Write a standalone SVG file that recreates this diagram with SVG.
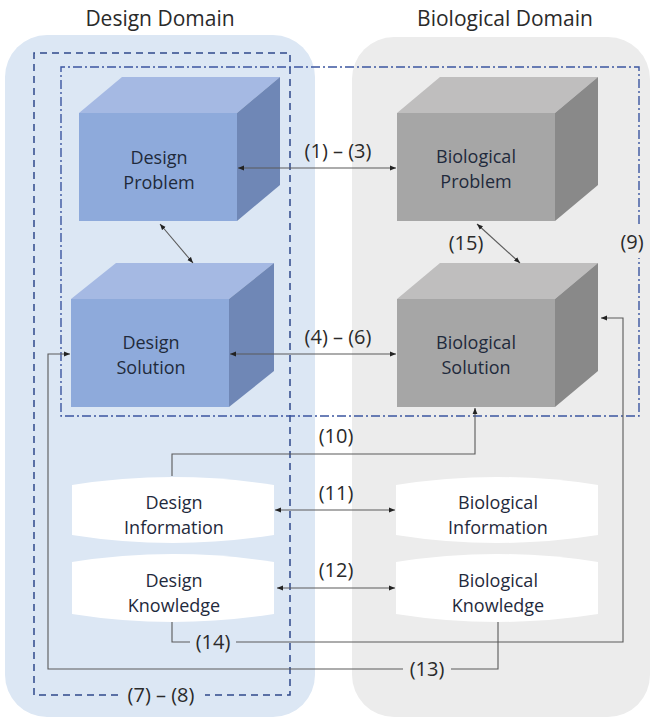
<svg xmlns="http://www.w3.org/2000/svg" width="653" height="717" viewBox="0 0 653 717">
<defs>
<marker id="ah" viewBox="0 0 10 10" refX="10" refY="5" markerWidth="6" markerHeight="6" orient="auto-start-reverse" markerUnits="userSpaceOnUse">
<path d="M0,1 L10,5 L0,9 Z" fill="#222"/>
</marker>
<style>
.t{font-family:"Open Sans","Liberation Sans",sans-serif;fill:#2a2a2a;text-anchor:middle}
.title{font-size:21px}
.node{font-size:18px;fill:#1f2a3c}
.lbl{font-size:20px}
.ln{fill:none;stroke:#5a5a5a;stroke-width:1.1}
.dash{fill:none;stroke:#2f4a8a;stroke-width:1.5;stroke-dasharray:7 5}
.dd{fill:none;stroke:#3b56a0;stroke-width:1.4;stroke-dasharray:9 3 2 3}
.bf{fill:#8eaadb}.bt{fill:#a5b9e3}.bs{fill:#6f87b6}
.gf{fill:#a6a6a6}.gt{fill:#bfbebe}.gs{fill:#898989}
.cyl{fill:#ffffff}
</style>
</defs>
<rect x="0" y="0" width="653" height="717" fill="#ffffff"/>
<rect id="design-domain" x="5" y="35" width="310" height="682" rx="42" fill="#dce7f4"/>
<rect id="bio-domain" x="352" y="37" width="298" height="680" rx="42" fill="#ececec"/>
<text class="t title" x="160" y="26">Design Domain</text>
<text class="t title" x="505" y="26">Biological Domain</text>

<g id="boundaries">
<path class="dash" d="M118,695 H34 V53 H290 V695 H205"/>
<text class="t lbl" x="161" y="702">(7) – (8)</text>
<path class="dd" d="M639,224 V67 H61 V416 H639 V258"/>
<text class="t lbl" x="632" y="249">(9)</text>
</g>

<g id="design-problem">
<polygon class="bt" points="79,113 122,77 280,77 237,113"/>
<polygon class="bs" points="237,113 280,77 280,185 237,221"/>
<rect class="bf" x="79" y="113" width="158" height="108"/>
<text class="t node" x="159" y="164">Design</text>
<text class="t node" x="159" y="189">Problem</text>
</g>
<g id="design-solution">
<polygon class="bt" points="71,299 116,263 274,263 229,299"/>
<polygon class="bs" points="229,299 274,263 274,371 229,407"/>
<rect class="bf" x="71" y="299" width="158" height="108"/>
<text class="t node" x="151" y="349">Design</text>
<text class="t node" x="151" y="374">Solution</text>
</g>
<g id="bio-problem">
<polygon class="gt" points="397,113 440,77 598,77 555,113"/>
<polygon class="gs" points="555,113 598,77 598,185 555,221"/>
<rect class="gf" x="397" y="113" width="158" height="108"/>
<text class="t node" x="476" y="163">Biological</text>
<text class="t node" x="476" y="188">Problem</text>
</g>
<g id="bio-solution">
<polygon class="gt" points="397,299 440,263 598,263 555,299"/>
<polygon class="gs" points="555,299 598,263 598,371 555,407"/>
<rect class="gf" x="397" y="299" width="158" height="108"/>
<text class="t node" x="476" y="349">Biological</text>
<text class="t node" x="476" y="374">Solution</text>
</g>

<g id="design-information">
<path class="cyl" d="M72,485 Q173,469 274,485 L274,535 Q173,551 72,535 Z"/>
<text class="t node" x="174" y="509">Design</text>
<text class="t node" x="174" y="534">Information</text>
</g>
<g id="design-knowledge">
<path class="cyl" d="M72,562 Q173,546 274,562 L274,614 Q173,630 72,614 Z"/>
<text class="t node" x="174" y="587">Design</text>
<text class="t node" x="174" y="612">Knowledge</text>
</g>
<g id="bio-information">
<path class="cyl" d="M396,485 Q497,469 598,485 L598,535 Q497,551 396,535 Z"/>
<text class="t node" x="498" y="509">Biological</text>
<text class="t node" x="498" y="534">Information</text>
</g>
<g id="bio-knowledge">
<path class="cyl" d="M396,562 Q497,546 598,562 L598,614 Q497,630 396,614 Z"/>
<text class="t node" x="498" y="587">Biological</text>
<text class="t node" x="498" y="612">Knowledge</text>
</g>

<g id="connectors">
<line class="ln" x1="238" y1="168" x2="396" y2="168" marker-start="url(#ah)" marker-end="url(#ah)"/>
<text class="t lbl" x="338" y="158">(1) – (3)</text>
<line class="ln" x1="160" y1="224" x2="193" y2="263" marker-start="url(#ah)" marker-end="url(#ah)"/>
<line class="ln" x1="230" y1="354" x2="396" y2="354" marker-start="url(#ah)" marker-end="url(#ah)"/>
<text class="t lbl" x="338" y="344">(4) – (6)</text>
<line class="ln" x1="477" y1="224" x2="520" y2="263" marker-start="url(#ah)" marker-end="url(#ah)"/>
<text class="t lbl" x="466" y="250">(15)</text>
<path class="ln" d="M172,476 V454 H475 V408" marker-end="url(#ah)"/>
<text class="t lbl" x="336" y="443">(10)</text>
<line class="ln" x1="275" y1="510" x2="395" y2="510" marker-start="url(#ah)" marker-end="url(#ah)"/>
<text class="t lbl" x="336" y="500">(11)</text>
<line class="ln" x1="277" y1="588" x2="395" y2="588" marker-start="url(#ah)" marker-end="url(#ah)"/>
<text class="t lbl" x="336" y="577">(12)</text>
<path class="ln" d="M172,622 V642 H190"/>
<path class="ln" d="M236,642 H623 V318 H601" marker-end="url(#ah)"/>
<text class="t lbl" x="213" y="649">(14)</text>
<path class="ln" d="M498,622 V669 H451"/>
<path class="ln" d="M403,669 H48 V354 H70" marker-end="url(#ah)"/>
<text class="t lbl" x="427" y="676">(13)</text>
</g>
</svg>
